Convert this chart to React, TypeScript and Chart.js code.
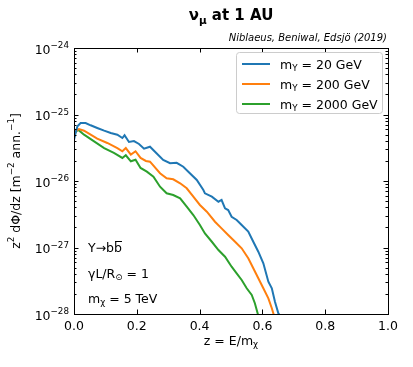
import React, { useEffect, useRef } from 'react';
import { Chart, registerables } from 'chart.js';

Chart.register(...registerables);

// ---------- data ----------
const z20 = [0.0, 0.005, 0.011, 0.021, 0.037, 0.053, 0.074, 0.096, 0.117, 0.138, 0.154, 0.161, 0.175, 0.191, 0.207, 0.223, 0.242, 0.258, 0.284, 0.306, 0.327, 0.348, 0.369, 0.391, 0.412, 0.417, 0.439, 0.46, 0.47, 0.481, 0.491, 0.502, 0.518, 0.534, 0.555, 0.571, 0.587, 0.603, 0.619, 0.63, 0.64, 0.651, 0.656];
const flux20 = [4.13e-26, 5.27e-26, 6.65e-26, 7.45e-26, 7.45e-26, 6.88e-26, 6.27e-26, 5.71e-26, 5.27e-26, 4.97e-26, 4.43e-26, 4.87e-26, 3.86e-26, 3.99e-26, 3.6e-26, 3.06e-26, 3.28e-26, 2.76e-26, 2.07e-26, 1.85e-26, 1.88e-26, 1.64e-26, 1.31e-26, 1.035e-26, 7.32e-27, 6.53e-27, 5.81e-27, 4.88e-27, 5.18e-27, 3.89e-27, 3.66e-27, 2.9e-27, 2.59e-27, 2.18e-27, 1.73e-27, 1.22e-27, 8.65e-28, 5.79e-28, 3.06e-28, 2.44e-28, 1.53e-28, 1.02e-28, 9.5e-29];

const z200 = [0.0, 0.005, 0.016, 0.032, 0.053, 0.074, 0.106, 0.138, 0.154, 0.165, 0.181, 0.196, 0.212, 0.229, 0.242, 0.274, 0.295, 0.316, 0.338, 0.359, 0.38, 0.401, 0.423, 0.449, 0.47, 0.491, 0.513, 0.534, 0.555, 0.571, 0.587, 0.603, 0.619, 0.63, 0.635, 0.637];
const flux200 = [4.59e-26, 5.59e-26, 6.05e-26, 5.71e-26, 4.97e-26, 4.33e-26, 3.73e-26, 3.13e-26, 2.8e-26, 3.13e-26, 2.49e-26, 2.8e-26, 2.22e-26, 2.0e-26, 1.95e-26, 1.31e-26, 1.1e-26, 1.06e-26, 9.23e-27, 7.77e-27, 5.81e-27, 4.36e-27, 3.45e-27, 2.44e-27, 1.94e-27, 1.54e-27, 1.22e-27, 9.72e-28, 6.88e-28, 4.87e-28, 3.44e-28, 2.44e-28, 1.72e-28, 1.22e-28, 1.02e-28, 9.5e-29];

const z2000 = [0.0, 0.005, 0.013, 0.032, 0.064, 0.096, 0.127, 0.154, 0.165, 0.181, 0.196, 0.212, 0.232, 0.253, 0.274, 0.295, 0.316, 0.338, 0.359, 0.38, 0.401, 0.417, 0.439, 0.46, 0.481, 0.502, 0.518, 0.534, 0.55, 0.566, 0.576, 0.585, 0.586];
const flux2000 = [4.59e-26, 5.46e-26, 5.91e-26, 4.97e-26, 3.95e-26, 3.13e-26, 2.64e-26, 2.22e-26, 2.44e-26, 1.98e-26, 2.09e-26, 1.57e-26, 1.38e-26, 1.16e-26, 8.21e-27, 6.53e-27, 6.16e-27, 5.49e-27, 4.11e-27, 3.08e-27, 2.18e-27, 1.63e-27, 1.22e-27, 9.17e-28, 7.27e-28, 5.14e-28, 4.09e-28, 3.25e-28, 2.44e-28, 1.93e-28, 1.45e-28, 1.02e-28, 9.5e-29];

const seriesMasses = ['20', '200', '2000'];
const seriesColors = ['#1f77b4', '#ff7f0e', '#2ca02c'];
const xTicks = [0, 0.2, 0.4, 0.6, 0.8, 1.0];
const yDecades = [-28, -27, -26, -25, -24];

const FONT = '"DejaVu Sans", sans-serif';

type Seg = { t: string; k?: 'sup' | 'sub'; over?: boolean };

function segFont(s: Seg, size: number, weight: string, style: string) {
  const sz = s.k ? size * 0.7 : size;
  return `${style} ${weight} ${sz}px ${FONT}`;
}

function richWidth(ctx: CanvasRenderingContext2D, segs: Seg[], size: number, weight = 'normal', style = 'normal') {
  let w = 0;
  for (const s of segs) {
    ctx.font = segFont(s, size, weight, style);
    w += ctx.measureText(s.t).width;
  }
  return w;
}

function drawRich(
  ctx: CanvasRenderingContext2D,
  segs: Seg[],
  x: number,
  y: number,
  size: number,
  align: 'left' | 'center' | 'right',
  weight = 'normal',
  style = 'normal'
) {
  const w = richWidth(ctx, segs, size, weight, style);
  let cx = align === 'center' ? x - w / 2 : align === 'right' ? x - w : x;
  ctx.textAlign = 'left';
  ctx.textBaseline = 'alphabetic';
  const base = y + size * 0.36;
  for (const s of segs) {
    ctx.font = segFont(s, size, weight, style);
    const dy = s.k === 'sup' ? -size * 0.42 : s.k === 'sub' ? size * 0.22 : 0;
    ctx.fillText(s.t, cx, base + dy);
    const sw = ctx.measureText(s.t).width;
    if (s.over) {
      ctx.save();
      ctx.lineWidth = 1;
      ctx.beginPath();
      const oy = Math.round(base - size * 0.88) + 0.5;
      ctx.moveTo(cx + 1, oy);
      ctx.lineTo(cx + sw, oy);
      ctx.stroke();
      ctx.restore();
    }
    cx += sw;
  }
}

const decorPlugin = {
  id: 'decor',
  afterDatasetsDraw(chart: any) {
    const ctx: CanvasRenderingContext2D = chart.ctx;
    const { left, right, top, bottom } = chart.chartArea;
    const xs = chart.scales.x;
    const ys = chart.scales.y;
    ctx.save();
    ctx.fillStyle = '#000';
    ctx.strokeStyle = '#000';

    // frame
    ctx.lineWidth = 1;
    ctx.strokeRect(Math.round(left) + 0.5, Math.round(top) + 0.5, Math.round(right - left), Math.round(bottom - top));

    // x ticks (inward, top and bottom)
    ctx.beginPath();
    for (const v of xTicks) {
      const px = Math.round(xs.getPixelForValue(v)) + 0.5;
      ctx.moveTo(px, bottom);
      ctx.lineTo(px, bottom - 4.5);
      ctx.moveTo(px, top);
      ctx.lineTo(px, top + 4.5);
    }
    // y ticks (major + minor, inward, left and right)
    for (let d = -28; d <= -24; d++) {
      for (let m = 1; m <= 9; m++) {
        if (d === -24 && m > 1) break;
        const val = m * Math.pow(10, d);
        const py = Math.round(ys.getPixelForValue(val)) + 0.5;
        const len = m === 1 ? 4.5 : 2.5;
        ctx.moveTo(left, py);
        ctx.lineTo(left + len, py);
        ctx.moveTo(right, py);
        ctx.lineTo(right - len, py);
      }
    }
    ctx.stroke();

    // y tick labels
    for (const d of yDecades) {
      const py = ys.getPixelForValue(Math.pow(10, d));
      drawRich(ctx, [{ t: '10' }, { t: '\u2212' + String(-d), k: 'sup' }], left - 5, py + 1, 12.5, 'right');
    }

    // axis titles
    drawRich(ctx, [{ t: 'z = E/m' }, { t: '\u03c7', k: 'sub' }], (left + right) / 2, 340, 12.5, 'center');
    ctx.save();
    ctx.translate(15, (top + bottom) / 2);
    ctx.rotate(-Math.PI / 2);
    drawRich(
      ctx,
      [{ t: 'z' }, { t: '2', k: 'sup' }, { t: ' d\u03a6/dz [m' }, { t: '\u22122', k: 'sup' }, { t: ' ann.' }, { t: '\u22121', k: 'sup' }, { t: ']' }],
      0,
      0,
      12.5,
      'center'
    );
    ctx.restore();

    // title & credit
    drawRich(ctx, [{ t: '\u03bd' }, { t: '\u03bc', k: 'sub' }, { t: ' at 1 AU' }], (left + right) / 2, 15, 15, 'center', 'bold');
    drawRich(ctx, [{ t: 'Niblaeus, Beniwal, Edsj\u00f6 (2019)' }], right - 1, 37, 10, 'right', 'normal', 'italic');

    // annotations
    drawRich(ctx, [{ t: '\u03a5\u2192b' }, { t: 'b', over: true }], 88, 247, 12.5, 'left');
    drawRich(ctx, [{ t: '\u03b3L/R' }, { t: '\u2299', k: 'sub' }, { t: ' = 1' }], 88, 273, 12.5, 'left');
    drawRich(ctx, [{ t: 'm' }, { t: '\u03c7', k: 'sub' }, { t: ' = 5 TeV' }], 88, 298, 12.5, 'left');

    // legend
    const lx = 236.5, ly = 52.5, lw = 146, lh = 61;
    ctx.save();
    ctx.fillStyle = 'rgba(255,255,255,0.8)';
    ctx.strokeStyle = '#cccccc';
    ctx.lineWidth = 1;
    ctx.beginPath();
    (ctx as any).roundRect(lx, ly, lw, lh, 3);
    ctx.fill();
    ctx.stroke();
    ctx.restore();
    seriesMasses.forEach((m, i) => {
      const yy = 64 + i * 20;
      ctx.save();
      ctx.strokeStyle = seriesColors[i];
      ctx.lineWidth = 2;
      ctx.beginPath();
      ctx.moveTo(242, yy);
      ctx.lineTo(270, yy);
      ctx.stroke();
      ctx.restore();
      ctx.fillStyle = '#000';
      drawRich(ctx, [{ t: 'm' }, { t: '\u03a5', k: 'sub' }, { t: ' = ' + m + ' GeV' }], 280, yy, 12.5, 'left');
    });

    ctx.restore();
  },
};

function pts(zs: number[], fs: number[]) {
  return zs.map((z, i) => ({ x: z, y: fs[i] }));
}

export default function App() {
  const ref = useRef<HTMLCanvasElement | null>(null);
  useEffect(() => {
    if (!ref.current) return;
    const data = [pts(z20, flux20), pts(z200, flux200), pts(z2000, flux2000)];
    const chart = new Chart(ref.current, {
      type: 'line',
      data: {
        datasets: data.map((d, i) => ({
          label: 'm = ' + seriesMasses[i] + ' GeV',
          data: d,
          borderColor: seriesColors[i],
          backgroundColor: seriesColors[i],
          borderWidth: 2,
          pointRadius: 0,
          tension: 0,
          fill: false,
        })),
      },
      options: {
        animation: false,
        responsive: false,
        maintainAspectRatio: false,
        layout: { padding: { left: 0, right: 25, top: 48, bottom: 0 } },
        plugins: {
          legend: { display: false },
          title: { display: false },
          tooltip: { enabled: false },
        },
        scales: {
          x: {
            type: 'linear',
            min: 0,
            max: 1,
            ticks: {
              stepSize: 0.2,
              autoSkip: false,
              maxRotation: 0,
              padding: 5,
              color: '#000',
              font: { family: FONT, size: 12.5 },
              callback: (v: any) => Number(v).toFixed(1),
            },
            grid: { display: false, drawTicks: false },
            border: { display: false },
            afterFit: (s: any) => {
              s.height = 53;
            },
          },
          y: {
            type: 'logarithmic',
            min: 1e-28,
            max: 1e-24,
            ticks: { display: false },
            grid: { display: false, drawTicks: false },
            border: { display: false },
            afterFit: (s: any) => {
              s.width = 74;
            },
          },
        },
      },
      plugins: [decorPlugin],
    } as any);
    return () => chart.destroy();
  }, []);
  return (
    <div style={{ position: 'absolute', left: 0, top: 0, width: 413, height: 367, background: '#fff' }}>
      <canvas ref={ref} width={413} height={367} style={{ display: 'block' }} />
    </div>
  );
}
